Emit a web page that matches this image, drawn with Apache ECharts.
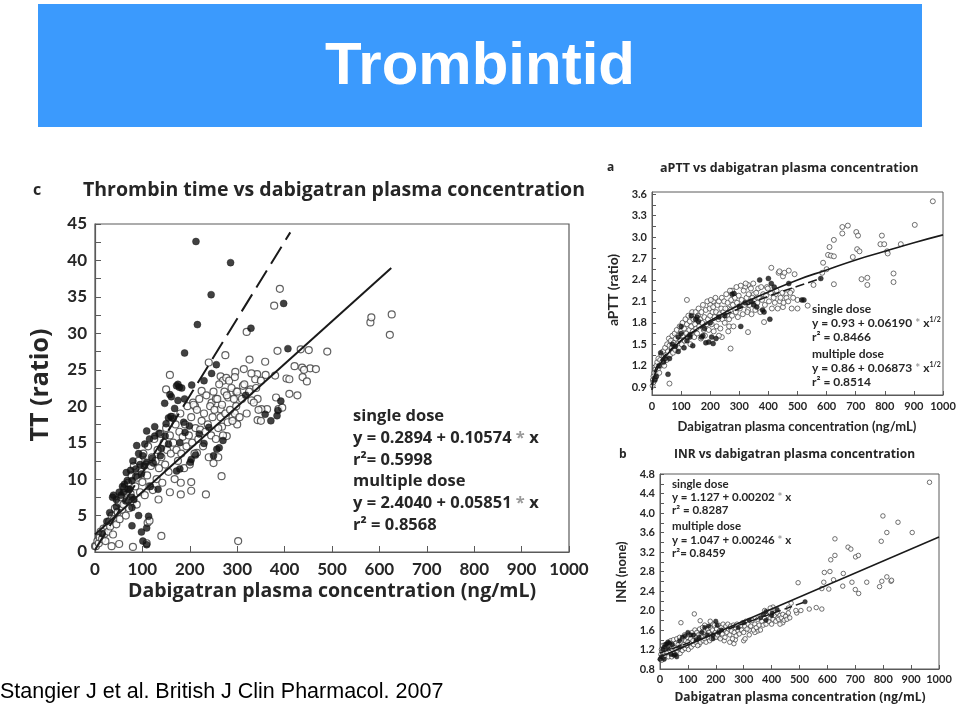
<!DOCTYPE html>
<html><head><meta charset="utf-8">
<script src="https://cdn.jsdelivr.net/npm/echarts@6/dist/echarts.min.js"></script>
<style>html,body{margin:0;padding:0;background:#fff}#c{width:960px;height:709px}</style>
</head><body><div id="c"></div>
<script>
// ---------- DATA ----------
// Panel c: Thrombin time (TT ratio) vs dabigatran plasma concentration
const cTicksX = [0,100,200,300,400,500,600,700,800,900,1000];
const cTicksY = [0,5,10,15,20,25,30,35,40,45];
const cSingle = [[213,42.6],[286,39.7],[245,35.3],[398,34.1],[216,31.2],[329,30.7],[189,27.3],[407,27.9],[256,25.7],[246,24.5],[230,23.5],[175,23.0],[178,22.6],[172,22.8],[204,22.9],[158,21.6],[161,21.3],[147,20.4],[189,21.0],[168,19.7],[392,20.7],[371,18.0],[359,18.9],[384,18.7],[386,19.4],[318,21.5],[155,18.4],[160,18.6],[187,17.8],[199,17.3],[126,17.2],[109,16.6],[88,14.6],[126,15.9],[148,15.9],[179,15.0],[257,14.1],[250,13.2],[203,12.7],[212,13.3],[101,13.2],[109,12.3],[121,12.9],[95,12.0],[86,11.4],[66,10.9],[62,9.3],[73,8.6],[60,8.2],[78,9.8],[86,10.4],[39,7.8],[51,8.2],[45,7.2],[70,8.6],[78,7.5],[82,7.2],[117,9.0],[133,8.6],[172,11.1],[179,11.4],[201,12.3],[92,5.0],[78,3.6],[98,2.75],[109,3.3],[113,4.9],[101,1.5],[109,1.0],[78,6.1],[37,7.5],[31,5.4],[55,7.8],[58,9.0],[68,9.8],[75,11.2],[80,12.5],[92,13.5],[105,14.8],[115,15.5],[135,16.3],[140,14.2],[150,17.6],[165,18.3],[183,22.5],[190,16.4],[220,16.2],[230,14.9],[240,17.1],[262,14.3],[270,15.3],[45,6.2],[25,4.2],[15,2.5],[65,7.0],[98,10.7],[104,11.8],[123,12.2],[138,13.2],[155,14.8],[175,20.8]];
const cMultiple = [[390,36.1],[378,33.8],[320,30.2],[326,26.4],[275,27.0],[240,26.0],[385,27.6],[581,31.5],[583,32.2],[626,32.6],[622,29.8],[490,27.5],[454,25.2],[466,25.1],[434,27.8],[421,25.5],[451,27.7],[437,25.3],[441,25.0],[438,24.0],[447,23.4],[404,23.8],[410,23.7],[410,21.7],[427,21.5],[382,21.2],[387,19.6],[363,19.6],[359,26.1],[360,24.3],[380,24.2],[342,24.4],[338,23.7],[314,25.1],[296,24.7],[265,24.1],[270,23.5],[277,23.9],[158,24.3],[150,22.3],[225,22.1],[207,20.5],[211,20.0],[246,20.5],[255,21.0],[265,19.6],[281,21.2],[290,21.8],[298,22.0],[304,21.4],[312,22.8],[328,22.3],[343,21.0],[351,19.6],[268,17.2],[278,15.9],[343,18.1],[181,9.5],[203,9.6],[203,8.4],[234,7.9],[267,10.4],[181,7.9],[158,8.2],[134,7.2],[140,2.2],[80,0.7],[51,1.1],[35,0.8],[0,0.8],[302,1.5],[109,1.2],[111,4.0],[115,4.3],[395,19.8],[300,17.5],[290,18.5],[330,20.8],[350,18.0],[215,13.6],[250,12.2],[260,13.0],[295,19.0],
[2,0.8],[5,1.5],[8,1.2],[10,2.0],[12,2.8],[15,1.8],[18,3.2],[20,2.5],[22,1.5],[25,3.5],[28,2.8],[30,4.2],[32,3.5],[35,5.0],[38,2.4],[40,4.5],[42,6.0],[45,3.8],[48,5.5],[50,6.8],[52,4.5],[55,7.5],[57,5.8],[60,6.5],[62,8.8],[65,5.0],[67,7.2],[70,9.5],[72,6.0],[75,8.0],[77,10.5],[80,7.0],[82,11.8],[85,9.0],[88,6.5],[90,10.2],[92,12.5],[95,8.2],[98,11.0],[100,9.6],[102,13.5],[105,7.8],[108,12.0],[110,10.5],[112,14.5],[115,9.0],[118,11.8],[120,13.0],[122,8.5],[125,15.5],[128,12.5],[130,10.0],[132,14.0],[135,11.5],[138,16.2],[140,13.0],[142,9.5],[145,15.0],[148,12.0],[150,17.0],[152,14.0],[155,11.0],[158,16.0],[160,13.5],[163,18.5],[165,15.0],[168,10.0],[170,17.5],[172,14.0],[175,12.5],[178,16.5],[180,19.0],[182,13.5],[185,15.8],[188,11.5],[190,17.5],[193,14.5],[195,20.0],[198,16.0],[200,12.0],[203,18.5],[205,15.0],[208,20.2],[210,13.5],[212,17.0],[215,19.5],[218,15.5],[220,21.0],[222,16.8],[225,18.0],[228,14.5],[230,19.0],[233,16.5],[235,21.5],[238,17.5],[240,13.0],[243,20.0],[245,16.0],[248,18.5],[250,22.0],[252,19.5],[255,15.5],[258,21.0],[260,17.0],[262,23.0],[265,18.5],[268,20.2],[270,16.0],[273,22.0],[275,19.0],[278,21.5],[280,17.8],[283,23.5],[285,19.5],[288,22.5],[290,18.0],[293,21.0],[295,24.0],[298,20.0],[300,22.0],[305,18.5],[310,21.0],[315,23.0],[320,19.0],[325,22.0],[330,24.5],[335,20.5],[340,22.5],[345,19.5],[350,23.5]];
const cFitSingle = [[0,0.29],[412,43.85]];
const cFitMultiple = [[0,2.40],[625,38.97]];

// Panel a: aPTT ratio vs concentration
const aTicksX = [0,100,200,300,400,500,600,700,800,900,1000];
const aTicksY = [0.9,1.2,1.5,1.8,2.1,2.4,2.7,3.0,3.3,3.6];
const aMinorY = [0.9,1.05,1.2,1.35,1.5,1.65,1.8,1.95,2.1,2.25,2.4,2.55,2.7,2.85,3.0,3.15,3.3,3.45,3.6];
const aSingle = [[55,1.08],[60,1.3],[40,1.25],[30,1.38],[25,1.2],[70,1.5],[80,1.47],[90,1.4],[100,1.75],[110,1.45],[100,1.65],[120,1.55],[130,1.63],[140,1.48],[150,1.85],[155,1.88],[160,1.82],[170,1.6],[175,1.62],[185,1.52],[195,1.53],[210,1.51],[205,1.6],[220,1.58],[180,1.72],[200,1.8],[230,1.88],[250,1.9],[275,2.2],[282,2.21],[305,1.75],[300,2.03],[320,2.08],[340,2.1],[350,2.05],[360,2.02],[370,2.4],[380,1.98],[385,1.95],[400,2.42],[405,1.85],[410,2.35],[420,2.3],[470,2.35],[515,2.12],[522,2.12],[580,2.42],[130,1.6],[135,1.9],[15,1.05],[10,1.0],[45,1.3],[90,1.6]];
const aMultiple = [[965,3.5],[903,3.17],[654,3.14],[654,3.05],[673,3.16],[702,3.07],[708,3.02],[705,2.83],[713,2.8],[690,2.72],[790,3.02],[785,2.9],[798,2.9],[808,2.8],[810,2.77],[855,2.9],[720,2.41],[740,2.43],[740,2.33],[830,2.49],[830,2.37],[625,2.96],[610,2.86],[605,2.75],[615,2.74],[625,2.73],[600,2.55],[625,2.34],[588,2.64],[585,2.5],[555,2.33],[535,2.04],[500,2.12],[490,2.48],[470,2.53],[450,2.45],[455,2.5],[435,2.5],[438,2.52],[410,2.57],[385,1.81],[330,1.67],[270,1.44],[120,2.12],[60,0.95],[500,2.0],[480,2.25],[460,2.2],[440,2.1],[425,2.2],[450,2.02],[480,2.0],[395,2.3],[365,2.28],[330,2.33],[320,2.3],[305,2.32],[290,2.3],[275,2.25],[260,2.0],[262,1.68],[265,1.75],[240,1.6],[230,1.62],[210,2.1],[200,2.05],[350,2.2],[330,1.98],
[2,0.92],[3,1.0],[5,1.05],[5,0.97],[8,1.1],[10,1.02],[12,1.15],[15,1.2],[15,1.1],[18,1.25],[20,1.15],[22,1.3],[25,1.1],[28,1.28],[30,1.2],[32,1.35],[35,1.25],[38,1.4],[40,1.32],[42,1.2],[45,1.45],[48,1.35],[50,1.28],[52,1.5],[55,1.4],[58,1.58],[60,1.48],[62,1.35],[65,1.55],[68,1.45],[70,1.62],[72,1.38],[75,1.52],[78,1.65],[80,1.42],[82,1.58],[85,1.7],[88,1.5],[90,1.62],[92,1.45],[95,1.75],[98,1.55],[100,1.68],[102,1.5],[105,1.8],[108,1.62],[110,1.72],[112,1.55],[115,1.85],[118,1.65],[120,1.78],[122,1.6],[125,1.9],[128,1.7],[130,1.82],[132,1.5],[135,1.75],[138,1.95],[140,1.68],[142,1.85],[145,1.6],[148,1.78],[150,1.95],[152,1.72],[155,1.65],[158,1.9],[160,2.0],[162,1.75],[165,1.85],[168,1.58],[170,1.95],[172,1.8],[175,2.05],[178,1.7],[180,1.88],[182,1.62],[185,1.98],[188,1.78],[190,2.1],[192,1.85],[195,1.7],[198,2.0],[200,1.9],[202,2.12],[205,1.78],[208,1.95],[210,2.02],[212,1.68],[215,1.88],[218,2.15],[220,1.95],[222,1.75],[225,2.05],[228,1.85],[230,2.1],[232,1.92],[235,1.72],[238,2.0],[240,2.15],[242,1.85],[245,1.95],[248,2.1],[250,1.8],[252,2.0],[255,2.2],[258,1.9],[260,2.08],[265,1.85],[268,2.25],[270,1.98],[272,2.12],[275,1.9],[278,2.05],[280,1.75],[285,2.15],[288,1.95],[292,2.08],[295,1.88],[298,2.18],[302,2.0],[308,2.12],[312,1.92],[315,2.25],[318,2.05],[322,2.35],[325,2.15],[328,1.95],[332,2.2],[335,2.05],[340,2.28],[342,1.92],[345,2.15],[348,2.35],[352,2.1],[355,1.98],[358,2.22],[362,2.08],[368,2.15],[372,1.95],[375,2.3],[378,2.12],[382,2.2],[388,2.05],[392,2.18],[398,2.28],[402,2.1],[408,2.22],[412,2.0],[418,2.15],[422,2.08],[428,2.25],[432,2.0],[442,2.15],[448,2.22],[452,2.08],[462,2.15],[468,2.1],[475,2.22],[485,2.15]];
const aFitSingle = [[0,0.93],[10,1.13],[25,1.24],[50,1.37],[100,1.55],[150,1.69],[200,1.81],[300,2.0],[400,2.17],[500,2.31],[580,2.42]];
const aFitMultiple = [[0,0.86],[10,1.08],[25,1.20],[50,1.35],[100,1.55],[150,1.70],[200,1.83],[300,2.05],[400,2.23],[500,2.40],[600,2.54],[700,2.68],[800,2.80],[900,2.92],[1000,3.03]];

// Panel b: INR vs concentration
const bTicksX = [0,100,200,300,400,500,600,700,800,900,1000];
const bTicksY = [0.8,1.2,1.6,2.0,2.4,2.8,3.2,3.6,4.0,4.4,4.8];
const bSingle = [[0,1.0],[5,1.05],[10,1.2],[15,1.25],[20,1.3],[25,1.32],[30,1.35],[35,1.33],[40,1.1],[50,1.08],[55,1.1],[60,1.05],[45,1.3],[70,1.38],[80,1.45],[90,1.48],[100,1.55],[110,1.5],[120,1.5],[140,1.45],[150,1.55],[160,1.65],[170,1.5],[175,1.68],[190,1.5],[200,1.78],[205,1.7],[210,1.55],[220,1.6],[280,1.65],[300,1.75],[320,1.8],[360,1.85],[370,1.92],[380,1.98],[400,1.9],[402,1.95],[420,2.02],[520,2.18],[380,1.8],[190,1.42],[130,1.4],[70,1.25],[15,1.0],[30,1.22]];
const bMultiple = [[966,4.63],[799,3.94],[853,3.81],[904,3.6],[813,3.6],[793,3.42],[627,3.47],[674,3.3],[684,3.26],[627,3.13],[612,3.04],[701,3.1],[711,3.13],[589,2.78],[609,2.8],[657,2.76],[813,2.69],[795,2.6],[828,2.6],[830,2.62],[741,2.58],[787,2.49],[587,2.58],[605,2.44],[622,2.63],[655,2.5],[688,2.58],[700,2.43],[712,2.35],[580,2.45],[495,2.57],[580,2.03],[560,2.06],[535,2.03],[505,2.0],[490,1.95],[487,2.0],[75,1.75],[123,1.93],[144,1.79],[470,2.15],[460,2.05],[455,1.9],[440,1.75],[430,1.72],[420,1.85],[410,1.95],[405,2.07],[395,2.05],[375,2.0],[350,1.58],[340,1.55],[320,1.6],[300,1.38],[305,1.42],[265,1.32],[270,1.4],[250,1.35],[230,1.38],[210,1.45],[190,1.72],[180,1.78],[160,1.7],[140,1.3],
[2,1.0],[3,1.1],[5,1.2],[6,0.98],[8,1.15],[10,1.28],[12,1.05],[14,1.22],[16,1.12],[18,1.3],[20,1.08],[22,1.25],[25,1.15],[28,1.35],[30,1.05],[32,1.25],[35,1.18],[38,1.38],[40,1.22],[42,1.05],[45,1.2],[48,1.4],[50,1.25],[52,1.12],[55,1.32],[58,1.2],[60,1.42],[62,1.15],[65,1.3],[68,1.22],[70,1.45],[72,1.12],[75,1.35],[78,1.25],[80,1.18],[82,1.42],[85,1.3],[88,1.5],[90,1.22],[92,1.38],[95,1.28],[98,1.45],[100,1.35],[102,1.2],[105,1.5],[108,1.32],[110,1.42],[112,1.25],[115,1.55],[118,1.38],[120,1.3],[122,1.48],[125,1.6],[128,1.35],[130,1.45],[132,1.55],[135,1.28],[138,1.5],[140,1.4],[142,1.62],[145,1.35],[148,1.52],[150,1.45],[152,1.65],[155,1.38],[158,1.55],[160,1.42],[162,1.6],[165,1.35],[168,1.5],[170,1.62],[172,1.45],[175,1.55],[178,1.38],[180,1.65],[182,1.5],[185,1.42],[188,1.6],[192,1.48],[195,1.7],[198,1.55],[200,1.45],[203,1.62],[206,1.5],[210,1.7],[213,1.58],[216,1.42],[220,1.65],[223,1.52],[226,1.72],[230,1.6],[233,1.45],[236,1.68],[240,1.55],[243,1.72],[246,1.62],[250,1.5],[253,1.68],[256,1.58],[260,1.42],[263,1.7],[266,1.55],[270,1.65],[273,1.48],[276,1.72],[280,1.58],[284,1.52],[288,1.68],[292,1.6],[296,1.75],[300,1.55],[304,1.68],[308,1.78],[312,1.62],[316,1.72],[320,1.5],[325,1.68],[330,1.8],[335,1.6],[340,1.72],[345,1.65],[350,1.82],[355,1.7],[360,1.6],[365,1.78],[370,1.7],[375,1.85],[380,1.72],[385,1.9],[390,1.78],[395,1.85],[400,1.72],[405,1.82],[410,1.9],[415,1.78],[420,1.95],[425,1.82],[430,1.9],[435,1.85],[440,1.92],[445,1.8],[450,1.88],[455,1.82],[460,1.95],[465,1.85]];
const bFitSingle = [[0,1.127],[520,2.177]];
const bFitMultiple = [[0,1.047],[1000,3.507]];

// ---------- CHART ----------
const FF = 'Lato, "Open Sans", sans-serif';
const FO = '"Open Sans", Lato, sans-serif';
const INK = '#262626';
const BORDER = '#5a5a5a';
const chart = echarts.init(document.getElementById('c'), null, {renderer:'canvas'});

function xAx(gi, ticks, fs, margin, tickLen){
  return {gridIndex:gi, type:'value', min:ticks[0], max:ticks[ticks.length-1], interval:100,
    axisLine:{show:true, lineStyle:{color:BORDER, width:1.2}},
    axisTick:{show:true, inside:true, length:tickLen, lineStyle:{color:BORDER}},
    axisLabel:{color:INK, fontFamily:FF, fontWeight:'bold', fontSize:fs, margin:margin,
      formatter:function(v){return String(v);}},
    splitLine:{show:false}};
}
function openSeries(gi, data, size, bw){
  return {type:'scatter', xAxisIndex:gi, yAxisIndex:gi, data:data, symbol:'circle', symbolSize:size,
    itemStyle:{color:'#ffffff', borderColor:'#3a3a3a', borderWidth:bw}, silent:true, z:2};
}
function filledSeries(gi, data, size){
  return {type:'scatter', xAxisIndex:gi, yAxisIndex:gi, data:data, symbol:'circle', symbolSize:size,
    itemStyle:{color:'#111111', borderColor:'#111111', borderWidth:0.5}, silent:true, z:3};
}
function lineSeries(gi, data, dashed, w, smooth){
  return {type:'line', xAxisIndex:gi, yAxisIndex:gi, data:data, symbol:'none', smooth:smooth||false,
    lineStyle:{color:'#1a1a1a', width:w, type: dashed ? dashed : 'solid'}, silent:true, z:4};
}
function txt(x, y, t, size, opts){
  opts = opts || {};
  return {type:'text', x:x, y:y, rotation:opts.rot||0, z:10,
    style:{text:t, fill:opts.fill||INK, font:(opts.weight||'bold')+' '+size+'px '+(opts.family||FF),
      textAlign:opts.align||'left', textVerticalAlign:'middle', rich:opts.rich}};
}

function mkRich(fam, size){
  return {
    s:{fontSize:Math.round(size*0.62), fontWeight:'bold', fontFamily:fam, fill:INK, verticalAlign:'top', padding:[0,0,Math.round(size*0.6),0]},
    g:{fontSize:size, fontWeight:'bold', fontFamily:fam, fill:'#9a9a9a'}
  };
}
const richC = mkRich(FO, 16.5);
const richA = mkRich(FF, 12);
const richB = mkRich(FF, 11.5);

const option = {
  animation:false,
  backgroundColor:'#ffffff',
  grid:[
    {left:95, top:224, width:474, height:328, show:true, borderColor:BORDER, borderWidth:1.2, backgroundColor:'transparent'},
    {left:652, top:192, width:291, height:203, show:true, borderColor:BORDER, borderWidth:1, backgroundColor:'transparent'},
    {left:660, top:474, width:279, height:195, show:true, borderColor:BORDER, borderWidth:1, backgroundColor:'transparent'}
  ],
  xAxis:[ xAx(0, cTicksX, 17, 9, 6), xAx(1, aTicksX, 11, 6, 4), xAx(2, bTicksX, 11, 5, 4) ],
  yAxis:[
    {gridIndex:0, type:'value', min:cTicksY[0], max:cTicksY[cTicksY.length-1], interval:5,
     axisLine:{show:true, lineStyle:{color:BORDER, width:1.2}},
     axisTick:{show:true, inside:true, length:6, lineStyle:{color:BORDER}},
     minorTick:{show:true, splitNumber:2, length:6, lineStyle:{color:BORDER}},
     axisLabel:{color:INK, fontFamily:FF, fontWeight:'bold', fontSize:17, margin:8},
     splitLine:{show:false}, minorSplitLine:{show:false}},
    {gridIndex:1, type:'value', min:0.79, max:3.63,
     axisLine:{show:true, lineStyle:{color:BORDER}},
     axisTick:{show:true, inside:true, length:4, customValues:aMinorY, lineStyle:{color:BORDER}},
     axisLabel:{color:INK, fontFamily:FF, fontWeight:'bold', fontSize:11, margin:5, customValues:aTicksY,
       formatter:function(v){return v.toFixed(1);}},
     splitLine:{show:false}},
    {gridIndex:2, type:'value', min:bTicksY[0], max:bTicksY[bTicksY.length-1], interval:0.4,
     axisLine:{show:true, lineStyle:{color:BORDER}},
     axisTick:{show:true, inside:true, length:4, lineStyle:{color:BORDER}},
     minorTick:{show:true, splitNumber:2, length:4, lineStyle:{color:BORDER}},
     axisLabel:{color:INK, fontFamily:FF, fontWeight:'bold', fontSize:11, margin:5,
       formatter:function(v){return v.toFixed(1);}},
     splitLine:{show:false}, minorSplitLine:{show:false}}
  ],
  series:[
    openSeries(0, cMultiple, 7, 1.2),
    filledSeries(0, cSingle, 7),
    lineSeries(0, cFitSingle, [20,8], 2),
    lineSeries(0, cFitMultiple, 'solid', 2),
    openSeries(1, aMultiple, 5, 0.9),
    filledSeries(1, aSingle, 5),
    lineSeries(1, aFitMultiple, 'solid', 1.6, true),
    lineSeries(1, aFitSingle, [9,4], 1.6, true),
    openSeries(2, bMultiple, 4.5, 0.9),
    filledSeries(2, bSingle, 4.5),
    lineSeries(2, bFitMultiple, 'solid', 1.5),
    lineSeries(2, bFitSingle, [8,4], 1.5)
  ],
  graphic:[
    {type:'rect', shape:{x:38, y:4, width:884, height:123}, style:{fill:'#3b9afd'}, z:1},
    txt(480, 67, 'Trombintid', 60, {fill:'#ffffff', align:'center', family:'"Liberation Sans", Arial, sans-serif'}),
    txt(0, 692, 'Stangier J et al. British J Clin Pharmacol. 2007', 21.5, {fill:'#000000', weight:'normal', family:'"Liberation Sans", Arial, sans-serif'}),
    // panel c
    txt(33, 190, 'c', 16, {family:FO}),
    txt(83, 190, 'Thrombin time vs dabigatran plasma concentration', 19.5, {family:FO}),
    txt(41, 385, 'TT (ratio)', 25, {rot:Math.PI/2, align:'center', family:FO}),
    txt(332, 591, 'Dabigatran plasma concentration (ng/mL)', 19.5, {align:'center', family:FO}),
    txt(353, 416, 'single dose', 16.5, {family:FO}),
    txt(353, 438, 'y = 0.2894 + 0.10574 {g|*} x', 16.5, {family:FO, rich:richC}),
    txt(353, 460, 'r²= 0.5998', 16.5, {family:FO}),
    txt(353, 481, 'multiple dose', 16.5, {family:FO}),
    txt(353, 503, 'y = 2.4040 + 0.05851 {g|*} x', 16.5, {family:FO, rich:richC}),
    txt(353, 525, 'r² = 0.8568', 16.5, {family:FO}),
    // panel a
    txt(607, 168, 'a', 12, {family:FO}),
    txt(660, 168, 'aPTT vs dabigatran plasma concentration', 12.5, {family:FO}),
    txt(613, 290, 'aPTT (ratio)', 14, {rot:Math.PI/2, align:'center'}),
    txt(797, 427, 'Dabigatran plasma concentration (ng/mL)', 13, {align:'center'}),
    txt(812, 309, 'single dose', 12),
    txt(812, 323, 'y = 0.93 + 0.06190 {g|*} x{s|1/2}', 12, {rich:richA}),
    txt(812, 337, 'r² = 0.8466', 12),
    txt(812, 354, 'multiple dose', 12),
    txt(812, 368, 'y = 0.86 + 0.06873 {g|*} x{s|1/2}', 12, {rich:richA}),
    txt(812, 382, 'r² = 0.8514', 12),
    // panel b
    txt(619, 455, 'b', 12, {family:FO}),
    txt(674, 455, 'INR vs dabigatran plasma concentration', 12, {family:FO}),
    txt(622, 572, 'INR (none)', 13, {rot:Math.PI/2, align:'center'}),
    txt(800, 698, 'Dabigatran plasma concentration (ng/mL)', 12, {align:'center', family:FO}),
    txt(672, 484, 'single dose', 11.5),
    txt(672, 497, 'y = 1.127 + 0.00202 {g|*} x', 11.5, {rich:richB}),
    txt(672, 510, 'r² = 0.8287', 11.5),
    txt(672, 526, 'multiple dose', 11.5),
    txt(672, 540, 'y = 1.047 + 0.00246 {g|*} x', 11.5, {rich:richB}),
    txt(672, 553, 'r²= 0.8459', 11.5)
  ]
};
chart.setOption(option);
</script></body></html>
